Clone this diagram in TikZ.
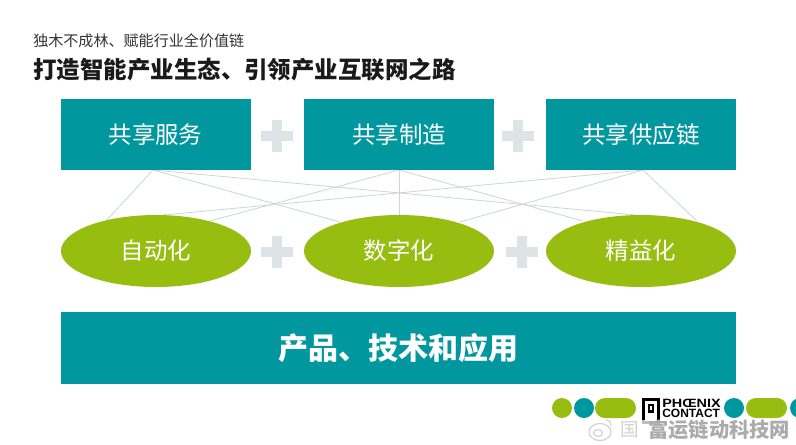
\documentclass[tikz,border=0pt]{standalone}
\usepackage{fontspec}
\setmainfont{Noto Sans CJK SC}
\newfontfamily\logofont{Liberation Sans}
\definecolor{tealbox}{HTML}{00979E}
\definecolor{leaf}{HTML}{97BD10}
\definecolor{plusgrey}{HTML}{DCE4E7}
\definecolor{linkgrey}{HTML}{C9D6DA}
\definecolor{ink}{HTML}{1A1A1A}
\definecolor{subink}{HTML}{333333}
\definecolor{wm}{HTML}{ABABAB}
\definecolor{wmlight}{HTML}{D2D2D2}
\newcommand{\fs}[1]{\fontsize{#1}{#1}\selectfont}
\usetikzlibrary{shapes.geometric}
\tikzset{
  tealnode/.style={fill=tealbox,draw=none,inner sep=0pt,text=white,minimum height=53.25pt,minimum width=142.5pt,font=\fs{17.6}},
  leafnode/.style={ellipse,fill=leaf,draw=none,inner sep=0pt,text=white,minimum height=54pt,minimum width=142.5pt,font=\fs{17.6}},
  link/.style={draw=linkgrey,line width=0.6pt},
  plusbar/.style={fill=plusgrey,draw=none},
  dotg/.style={fill=leaf,draw=none},
  dott/.style={fill=tealbox,draw=none},
  logotext/.style={anchor=west,inner sep=0pt,font=\logofont\bfseries\fs{9}},
}
\begin{document}
\begin{tikzpicture}[x=0.75pt,y=-0.75pt]
\useasboundingbox (0,0) rectangle (796,444);
\fill[white] (0,0) rectangle (796,444);
% link ends
\coordinate (s1) at (153,170);
\coordinate (s2) at (399,170);
\coordinate (s3) at (643,170);
\coordinate (e1a) at (106,221);
\coordinate (e1b) at (163,215);
\coordinate (e1c) at (210,221);
\coordinate (e2a) at (340,222);
\coordinate (e2b) at (399,215);
\coordinate (e2c) at (460,222);
\coordinate (e3a) at (583,221);
\coordinate (e3b) at (636,215);
\coordinate (e3c) at (697,221);
\draw[link] (s1) -- (e1a);
\draw[link] (s1) -- (e2a);
\draw[link] (s1) -- (e3b);
\draw[link] (s2) -- (e1c);
\draw[link] (s2) -- (e2b);
\draw[link] (s2) -- (e3a);
\draw[link] (s3) -- (e1b);
\draw[link] (s3) -- (e2c);
\draw[link] (s3) -- (e3c);
% title
\node[anchor=west,inner sep=0pt,text=subink,font=\fs{11.3}] (sub) at (33,41) {独木不成林、赋能行业全价值链};
\node[anchor=west,inner sep=0pt,text=ink,font=\fs{17.6}\bfseries] (title) at (33,70) {打造智能产业生态、引领产业互联网之路};
% top boxes
\node[tealnode] (b1) at (155.5,134.5) {共享服务};
\node[tealnode] (b2) at (399,134.5) {共享制造};
\node[tealnode] (b3) at (641,134.5) {共享供应链};
% ellipses
\node[leafnode] (c1) at (156,251) {自动化};
\node[leafnode] (c2) at (399,251) {数字化};
\node[leafnode] (c3) at (641,251) {精益化};
% base
\node[tealnode,minimum width=506.25pt,minimum height=54pt,font=\fs{22.5}\bfseries] (base) at (398.5,348) {产品、技术和应用};
% plus signs
\foreach \px/\py in {277/136,518/136,277/252,521.5/252}{
  \fill[plusbar] (\px-16,\py-5) rectangle (\px+16,\py+5);
  \fill[plusbar] (\px-5,\py-16) rectangle (\px+5,\py+16);
}
% footer decoration
\fill[dotg] (562,408) circle (10);
\fill[dott] (584,408) circle (10);
\fill[dotg,rounded corners=7.5pt] (595,398) rectangle (636,418);
\fill[dott] (734,408) circle (10);
\fill[dotg,rounded corners=7.5pt] (746,398) rectangle (787,418);
\fill[dott] (800,408) circle (10);
% logo
\fill[black] (642,398) rectangle (660,424);
\fill[white] (645,401) rectangle (657,421);
\fill[black] (648,404) rectangle (654,413);
\fill[white] (650,406) rectangle (652,410);
\node[logotext] (lg1) at (662,403) {\scalebox{1.2}[1]{PHŒNIX}};
\node[logotext] (lg2) at (662,413) {CONTACT};
% watermark
\fill[white,opacity=0.75] (618,420) rectangle (796,442);
\node[anchor=west,inner sep=0pt,text=wmlight,font=\fs{14}] (wmbox) at (620,430) {国};
\node[anchor=west,inner sep=0pt,text=wm,font=\bfseries\fs{15.2}] (wmark) at (648,430) {富运链动科技网};
\draw[wmlight,line width=0.9pt] (600,432) ellipse (11 and 8.5);
\draw[wmlight,line width=0.9pt] (598,433) ellipse (4.5 and 3.5);
\draw[wmlight,line width=0.9pt] (606,420) arc (-90:10:5);
\end{tikzpicture}
\end{document}
